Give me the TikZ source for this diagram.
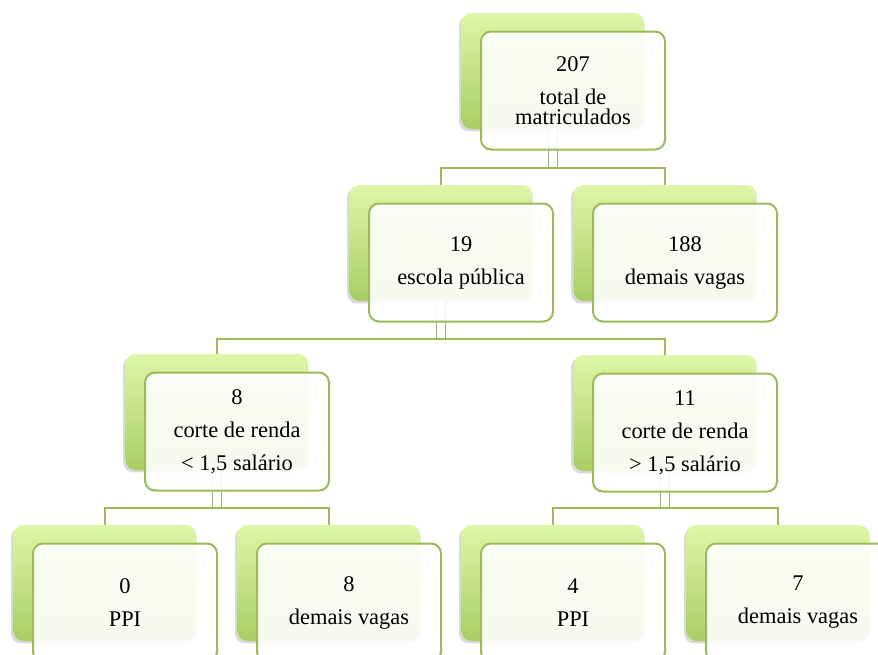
\documentclass[tikz,border=0pt]{standalone}
\usepackage{fontspec}
\setmainfont{Liberation Serif}
\usetikzlibrary{shadows}
\definecolor{verde}{HTML}{9BBB59}
\definecolor{verdeclaro}{HTML}{DEF6A9}
\definecolor{verdeescuro}{HTML}{A8CE64}
\begin{document}
\begin{tikzpicture}[x=0.5pt, y=-0.5pt,
	fundo/.style={rectangle, rounded corners=5pt, minimum width=91.5pt, minimum height=58pt, top color=verdeclaro, bottom color=verdeescuro, draw=none, drop shadow={shadow xshift=-1.2pt, shadow yshift=-1.2pt, opacity=0.3}},
	caixa/.style={rectangle, rounded corners=5pt, minimum width=92pt, minimum height=59pt, draw=verde, line width=1pt, fill=white, fill opacity=0.9, text opacity=1, align=center, inner sep=0pt, font=\fontsize{11.2}{10}\selectfont},
	tronco/.style={draw=verde, double=white, line width=0.9pt, double distance=3.6pt},
	liga/.style={draw=verde, line width=1pt}]
	\useasboundingbox (0,0) rectangle (878,654);
	\clip (0,0) rectangle (878,654);
	\node[fundo] (total) at (553,71) {};
	\node[fundo] (publica) at (441,243) {};
	\node[fundo] (demais) at (665,243) {};
	\node[fundo] (rendamenor) at (217,412) {};
	\node[fundo] (rendamaior) at (665,413) {};
	\node[fundo] (ppimenor) at (105,583) {};
	\node[fundo] (vagasmenor) at (329,583) {};
	\node[fundo] (ppimaior) at (553,583) {};
	\node[fundo] (vagasmaior) at (778,583) {};
	\coordinate (nivel1) at (553,168);
	\coordinate (nivel2) at (441,339);
	\coordinate (nivel3a) at (217,508);
	\coordinate (nivel3b) at (665,508);
	\draw[tronco] (total.south) -- (nivel1);
	\draw[tronco] (publica.south) -- (nivel2);
	\draw[tronco] (rendamenor.south) -- (nivel3a);
	\draw[tronco] (rendamaior.south) -- (nivel3b);
	\draw[liga] (publica.north) |- (nivel1) -| (demais.north);
	\draw[liga] (rendamenor.north) |- (nivel2) -| (rendamaior.north);
	\draw[liga] (ppimenor.north) |- (nivel3a) -| (vagasmenor.north);
	\draw[liga] (ppimaior.north) |- (nivel3b) -| (vagasmaior.north);
	\node[caixa] (totalc) at ([xshift=10pt, yshift=-9.75pt]total.center) {207\\[6.5pt]total de\\matriculados};
	\node[caixa] (publicac) at ([xshift=10pt, yshift=-9.75pt]publica.center) {19\\[6.5pt]escola pública};
	\node[caixa] (demaisc) at ([xshift=10pt, yshift=-9.75pt]demais.center) {188\\[6.5pt]demais vagas};
	\node[caixa] (rendamenorc) at ([xshift=10pt, yshift=-9.75pt]rendamenor.center) {8\\[6.5pt]corte de renda\\[6.5pt]< 1,5 salário};
	\node[caixa] (rendamaiorc) at ([xshift=10pt, yshift=-9.75pt]rendamaior.center) {11\\[6.5pt]corte de renda\\[6.5pt]> 1,5 salário};
	\node[caixa] (ppimenorc) at ([xshift=10pt, yshift=-9.75pt]ppimenor.center) {0\\[6.5pt]PPI};
	\node[caixa] (vagasmenorc) at ([xshift=10pt, yshift=-9.75pt]vagasmenor.center) {8\\[6.5pt]demais vagas};
	\node[caixa] (ppimaiorc) at ([xshift=10pt, yshift=-9.75pt]ppimaior.center) {4\\[6.5pt]PPI};
	\node[caixa] (vagasmaiorc) at ([xshift=10pt, yshift=-9.75pt]vagasmaior.center) {7\\[6.5pt]demais vagas};
\end{tikzpicture}
\end{document}
